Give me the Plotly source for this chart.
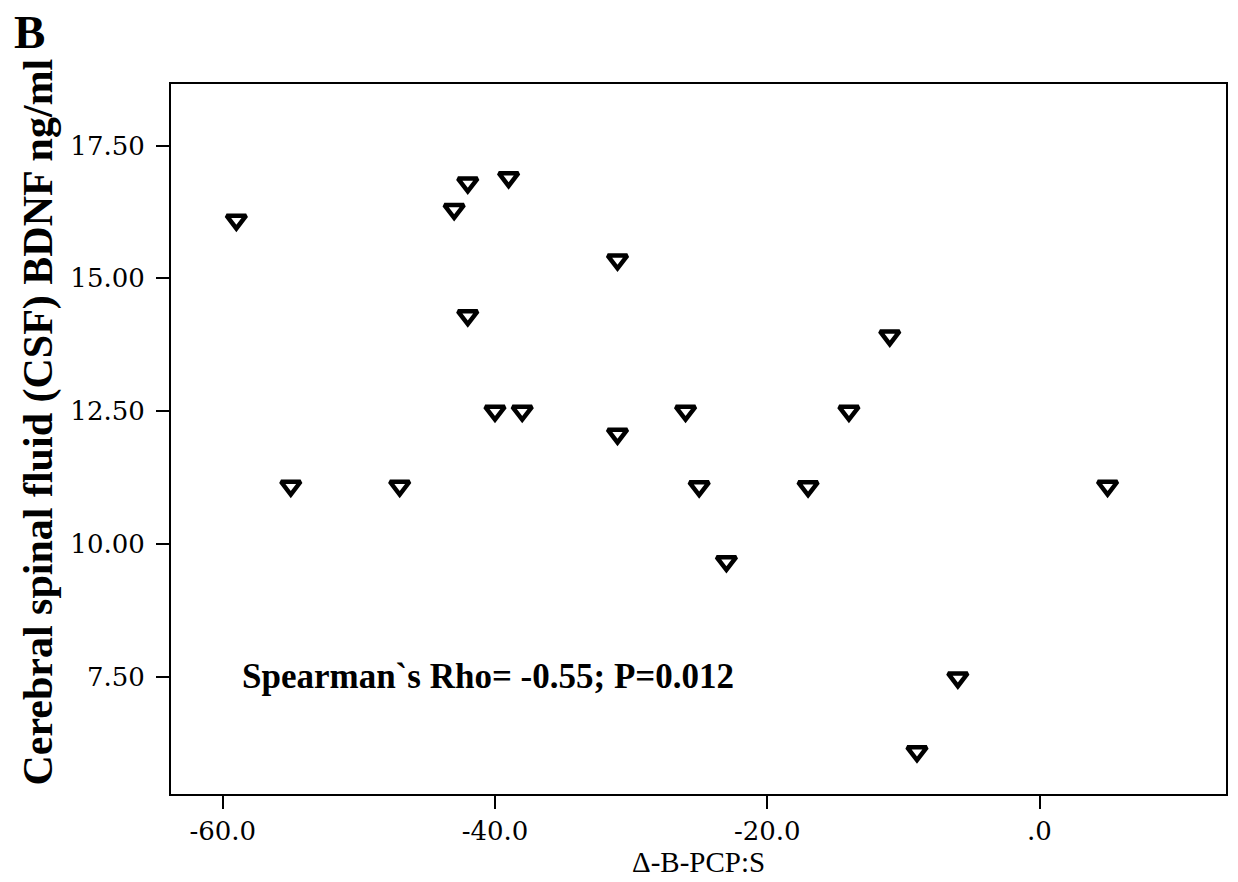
import plotly.graph_objects as go

# Data
delta_bpcps = [-59, -55, -47, -43, -42, -42, -39, -40, -38, -31, -31, -26, -25, -23, -17, -14, -11, -9, -6, 5]
csf_bdnf = [16.10, 11.09, 11.09, 16.30, 16.80, 14.30, 16.90, 12.50, 12.50, 15.35, 12.07, 12.50, 11.08, 9.67, 11.08, 12.50, 13.92, 6.09, 7.48, 11.09]

x_tickvals = [-60, -40, -20, 0]
x_ticktext = ["-60.0", "-40.0", "-20.0", ".0"]
y_tickvals = [7.5, 10.0, 12.5, 15.0, 17.5]
y_ticktext = ["7.50", "10.00", "12.50", "15.00", "17.50"]

x_title = "Δ-B-PCP:S"
y_title = "Cerebral spinal fluid (CSF) BDNF ng/ml"
stat_text = "Spearman`s Rho= -0.55; P=0.012"
panel_label = "B"

fig = go.Figure()
fig.add_trace(go.Scatter(
    x=delta_bpcps, y=csf_bdnf, mode="markers",
    marker=dict(symbol="triangle-down", size=17, color="white",
                line=dict(color="black", width=4.5)),
    showlegend=False, hoverinfo="skip",
))

tick_font = dict(family="DejaVu Serif", size=26, color="black")
axis_common = dict(showline=True, linecolor="black", linewidth=2, mirror=True,
                   showgrid=False, zeroline=False, ticks="outside", ticklen=13,
                   tickwidth=2, tickcolor="black", tickfont=tick_font)

fig.update_xaxes(range=[-63.8, 13.7], tickvals=x_tickvals, ticktext=x_ticktext, **axis_common)
fig.update_yaxes(range=[5.29, 18.66], tickvals=y_tickvals, ticktext=y_ticktext,
                 ticklabelstandoff=6, **axis_common)

fig.update_layout(
    width=1238, height=882,
    margin=dict(l=171, r=10, t=84, b=88),
    paper_bgcolor="white", plot_bgcolor="white",
    annotations=[
        dict(text=stat_text, x=-58.75, y=7.5, xref="x", yref="y", xanchor="left", yanchor="middle",
             showarrow=False, font=dict(family="Liberation Serif", size=35, color="black", weight="bold")),
        dict(text=y_title, x=-0.1258, y=0.5235, xref="paper", yref="paper", xanchor="center", yanchor="middle",
             textangle=-90, showarrow=False,
             font=dict(family="Liberation Serif", size=42, color="black", weight="bold")),
        dict(text=x_title, x=0.5, y=-0.0958, xref="paper", yref="paper", xanchor="center", yanchor="middle",
             showarrow=False, font=dict(family="Liberation Serif", size=29, color="black")),
        dict(text=panel_label, x=-0.1504, y=1.0735, xref="paper", yref="paper", xanchor="left", yanchor="middle",
             showarrow=False, font=dict(family="Liberation Serif", size=47, color="black", weight="bold")),
    ],
)

fig.write_html("out.html")
